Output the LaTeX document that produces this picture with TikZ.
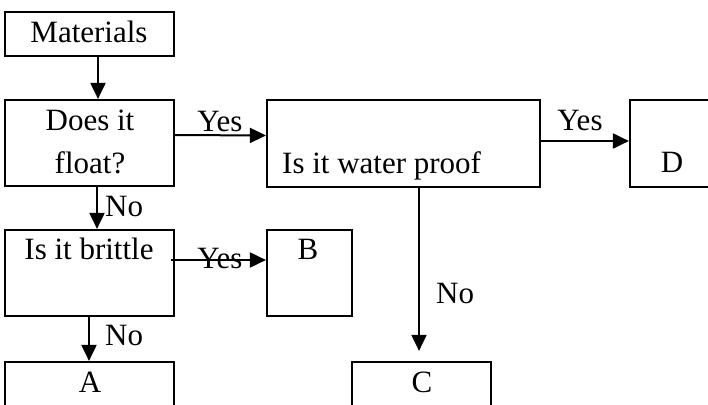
\documentclass[tikz,border=0pt]{standalone}
\usepackage{fontspec}
\setmainfont{Liberation Serif}
\usetikzlibrary{arrows.meta}
\begin{document}
\begin{tikzpicture}[x=1pt,y=-1pt,
  box/.style={draw,line width=2.2pt,inner sep=0pt,minimum width=#1},
  box/.default=169pt,
  txt/.style={inner sep=0pt,anchor=base,font=\fontsize{31}{36}\selectfont},
  arr/.style={line width=2pt,-{Triangle[length=16pt,width=15pt]}}]
\useasboundingbox (0,0) rectangle (708,404);
\clip (0,0) rectangle (708,404);
% boxes
\node[box,minimum height=44pt] (mat) at (89.5,34) {};
\node[box,minimum height=86pt] (flo) at (89.5,143) {};
\node[box=273pt,minimum height=87pt] (wat) at (403.5,143.5) {};
\node[box=130pt,minimum height=87pt] (D) at (695,143.5) {};
\node[box,minimum height=86pt] (bri) at (89.5,273) {};
\node[box=85pt,minimum height=86pt] (B) at (309.5,273) {};
\node[box,minimum height=88pt] (A) at (89.5,406) {};
\node[box=139pt,minimum height=88pt] (C) at (421.5,406) {};
% texts
\node[txt] (tmat) at (89,42) {Materials};
\node[txt] (tflo1) at (90,130) {Does it};
\node[txt] (tflo2) at (90,173) {float?};
\node[txt,anchor=base west] (twat) at (282,173) {Is it water proof};
\node[txt] (tD) at (672,172) {D};
\node[txt] (tbri) at (89,259) {Is it brittle};
\node[txt] (tB) at (308,259) {B};
\node[txt] (tA) at (90,392) {A};
\node[txt] (tC) at (422,392) {C};
% labels
\node[txt] (y1) at (220,131) {Yes};
\node[txt] (y2) at (580,130) {Yes};
\node[txt] (y3) at (220,268) {Yes};
\node[txt,anchor=base west] (n1) at (105,216) {No};
\node[txt,anchor=base west] (n2) at (105,345) {No};
\node[txt,anchor=base west] (n3) at (436,303) {No};
% connectors
\draw[arr] ([xshift=8.5pt]mat.south) -- ([xshift=8.5pt]flo.north);
\draw[arr] ([yshift=8pt]flo.east) -- ([yshift=8pt]wat.west);
\draw[arr] ([yshift=2.5pt]wat.east) -- ([yshift=2.5pt]D.west);
\draw[arr] ([xshift=7.5pt]flo.south) -- ([xshift=7.5pt]bri.north);
\draw[arr] ([yshift=13pt,xshift=-4pt]bri.east) -- ([yshift=13pt]B.west);
\draw[arr] ([xshift=-0.5pt]bri.south) -- ([xshift=-0.5pt]A.north);
\draw[arr,shorten >=10pt] ([xshift=15.5pt]wat.south) -- ([xshift=-2.5pt]C.north);
\end{tikzpicture}
\end{document}
